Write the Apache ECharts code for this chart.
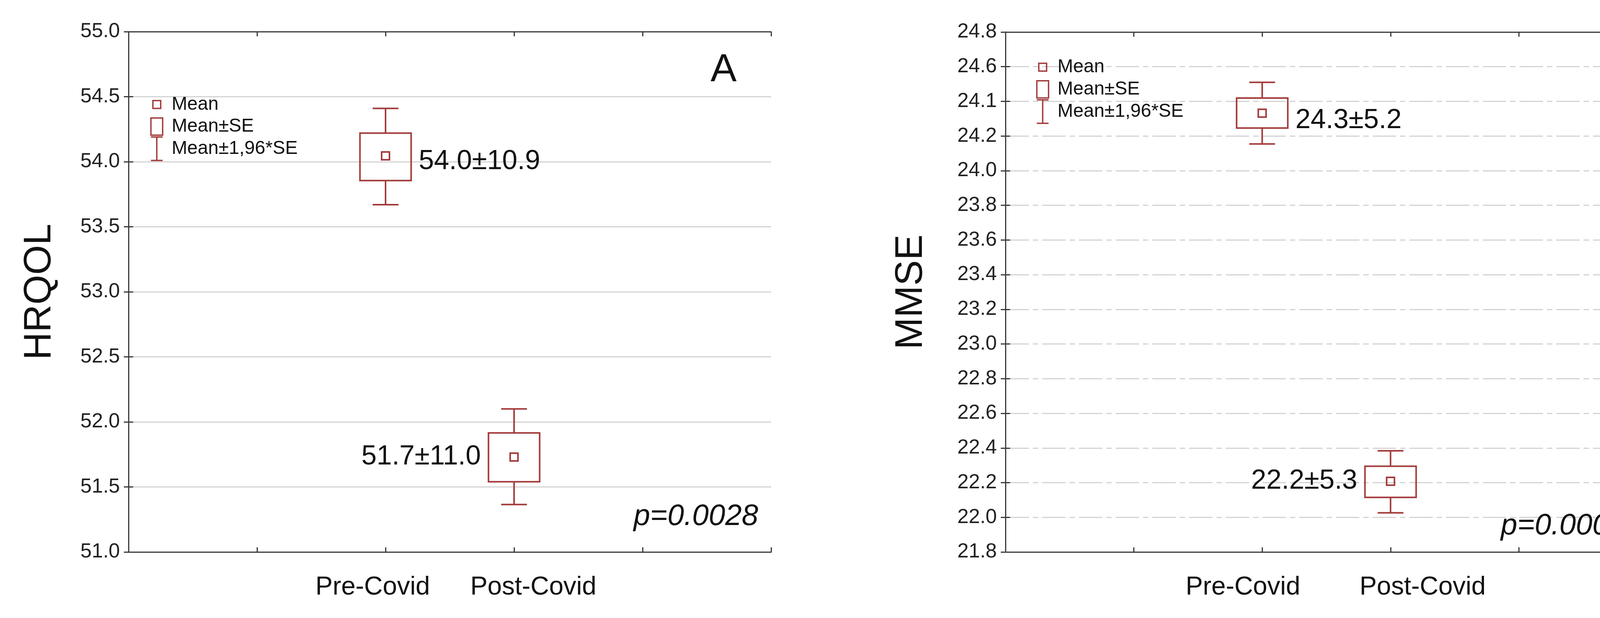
<!DOCTYPE html>
<html><head><meta charset="utf-8">
<script src="https://cdn.jsdelivr.net/npm/echarts@6/dist/echarts.min.js"></script>
<style>html,body{margin:0;background:#fff}#c{width:4288px;height:1582px}</style>
</head><body><div id="c"></div>
<script>
// ---- data ----
const categories = ['Pre-Covid', 'Post-Covid'];
// panel A (HRQOL)
const meanA = [54.045, 51.73];
const seLoA = [53.855, 51.54];
const seHiA = [54.22, 51.915];
const ciLoA = [53.67, 51.365];
const ciHiA = [54.41, 52.10];
const labelsA = ['54.0±10.9', '51.7±11.0'];
// panel B (MMSE)
const meanB = [24.332, 22.208];
const seLoB = [24.246, 22.115];
const seHiB = [24.419, 22.295];
const ciLoB = [24.154, 22.026];
const ciHiB = [24.51, 22.384];
const labelsB = ['24.3±5.2', '22.2±5.3'];
const yTicksB = ['21.8','22.0','22.2','22.4','22.6','22.8','23.0','23.2','23.4','23.6','23.8','24.0','24.2','24.1','24.6','24.8'];
const legendTexts = ['Mean', 'Mean±SE', 'Mean±1,96*SE'];

const RED = '#a33a3a';
const FONT = '"Liberation Sans Narrow", "Liberation Sans", Arial, sans-serif';
const catX = [2, 3];

function boxData(mean, lo, hi, clo, chi) {
  return categories.map((c, i) => [catX[i], mean[i], lo[i], hi[i], clo[i], chi[i]]);
}
function renderBox(params, api) {
  const x = api.value(0);
  const pm = api.coord([x, api.value(1)]);
  const pLo = api.coord([x, api.value(2)]);
  const pHi = api.coord([x, api.value(3)]);
  const pcl = api.coord([x, api.value(4)]);
  const pch = api.coord([x, api.value(5)]);
  const bw = 131, cw = 66, ms = 20;
  const st = {stroke: RED, lineWidth: 4, fill: null};
  return {type: 'group', children: [
    {type: 'line', shape: {x1: pm[0], y1: pch[1], x2: pm[0], y2: pHi[1]}, style: st},
    {type: 'line', shape: {x1: pm[0], y1: pLo[1], x2: pm[0], y2: pcl[1]}, style: st},
    {type: 'line', shape: {x1: pm[0]-cw/2, y1: pch[1], x2: pm[0]+cw/2, y2: pch[1]}, style: st},
    {type: 'line', shape: {x1: pm[0]-cw/2, y1: pcl[1], x2: pm[0]+cw/2, y2: pcl[1]}, style: st},
    {type: 'rect', shape: {x: pm[0]-bw/2, y: pHi[1], width: bw, height: pLo[1]-pHi[1]}, style: st},
    {type: 'rect', shape: {x: pm[0]-ms/2, y: pm[1]-ms/2, width: ms, height: ms}, style: st}
  ]};
}
function valueLabels(labels, means, sides, xIndex, yIndex) {
  return {
    type: 'custom', xAxisIndex: xIndex, yAxisIndex: yIndex, silent: true,
    data: labels.map((t, i) => [catX[i], means[i], i]),
    renderItem: (p, api) => {
      const i = api.value(2);
      const pt = api.coord([api.value(0), api.value(1)]);
      const right = sides[i] > 0;
      return {type: 'text', x: pt[0] + (right ? 85 : -85), y: pt[1],
        style: {text: labels[i], font: '70px ' + FONT, fill: '#111',
          align: right ? 'left' : 'right', verticalAlign: 'middle'}};
    }
  };
}
function legendSeries(xIndex, yIndex, x0, ys) {
  return {
    type: 'custom', xAxisIndex: xIndex, yAxisIndex: yIndex, silent: true,
    data: legendTexts.map((t, i) => [x0, ys[i], i]),
    renderItem: (p, api) => {
      const i = api.value(2);
      const pt = api.coord([api.value(0), api.value(1)]);
      const st = {stroke: RED, lineWidth: 3.5, fill: null};
      let sym;
      if (i === 0) sym = {type: 'rect', shape: {x: pt[0]-10, y: pt[1]-10, width: 20, height: 20}, style: st};
      else if (i === 1) sym = {type: 'rect', shape: {x: pt[0]-15, y: pt[1]-22, width: 30, height: 44}, style: st};
      else sym = {type: 'group', children: [
        {type: 'line', shape: {x1: pt[0], y1: pt[1]-30, x2: pt[0], y2: pt[1]+30}, style: st},
        {type: 'line', shape: {x1: pt[0]-15, y1: pt[1]-30, x2: pt[0]+15, y2: pt[1]-30}, style: st},
        {type: 'line', shape: {x1: pt[0]-15, y1: pt[1]+30, x2: pt[0]+15, y2: pt[1]+30}, style: st}]};
      return {type: 'group', children: [sym,
        {type: 'text', x: pt[0] + 38, y: pt[1], style: {text: legendTexts[i], font: '48px ' + FONT, fill: '#111', verticalAlign: 'middle'}}]};
    }
  };
}
function textSeries(xIndex, yIndex, x, y, text, font, align) {
  return {type: 'custom', xAxisIndex: xIndex, yAxisIndex: yIndex, silent: true, data: [[x, y]],
    renderItem: (p, api) => {
      const pt = api.coord([api.value(0), api.value(1)]);
      return {type: 'text', x: pt[0], y: pt[1], style: {text, font, fill: '#111', align, verticalAlign: 'middle'}};
    }};
}

const grids = [
  {left: 329, top: 81, width: 1645, height: 1332},
  {left: 2574, top: 82, width: 1643, height: 1331}
];
const xLabelPos = [{pre: 1.9, post: 3.15}, {pre: 1.85, post: 3.25}];
const gridLineTypes = ['solid', [60, 10, 14, 10]];
const xAxes = [], yAxes = [];
const yCfg = [{min: 51, max: 55, interval: 0.5, name: 'HRQOL', gap: 178, fmt: v => v.toFixed(1)},
              {min: 21.8, max: 24.8, interval: 0.2, name: 'MMSE', gap: 192, fmt: v => yTicksB[Math.round((v - 21.8) / 0.2)] || ''}];
[0, 1].forEach(g => {
  xAxes.push({gridIndex: g, type: 'value', min: 0, max: 5, interval: 1, position: 'bottom',
    axisLine: {lineStyle: {color: '#3a3a3a', width: 3}}, axisTick: {inside: true, length: 12, lineStyle: {color: '#3a3a3a', width: 3}},
    axisLabel: {show: false}, splitLine: {show: false}});
  xAxes.push({gridIndex: g, type: 'value', min: 0, max: 5, interval: 1, position: 'top',
    axisLine: {show: true, lineStyle: {color: '#3a3a3a', width: 3}}, axisTick: {show: true, inside: true, length: 12, lineStyle: {color: '#3a3a3a', width: 3}},
    axisLabel: {show: false}, splitLine: {show: false}});
  const lp = xLabelPos[g];
  xAxes.push({gridIndex: g, type: 'value', min: 0, max: 5, interval: 0.05, position: 'bottom',
    axisLine: {show: false}, axisTick: {show: false}, splitLine: {show: false},
    axisLabel: {interval: 0, hideOverlap: false, margin: 58, fontSize: 66, fontFamily: FONT, color: '#111',
      formatter: v => Math.abs(v - lp.pre) < 1e-6 ? categories[0] : (Math.abs(v - lp.post) < 1e-6 ? categories[1] : '')}});
  const yc = yCfg[g];
  yAxes.push({gridIndex: g, type: 'value', min: yc.min, max: yc.max, interval: yc.interval,
    name: yc.name, nameLocation: 'middle', nameGap: yc.gap, nameTextStyle: {fontSize: 98, fontFamily: '"Liberation Sans", Arial, sans-serif', color: '#111'},
    axisLine: {show: true, lineStyle: {color: '#3a3a3a', width: 3}}, axisTick: {inside: true, length: 12, lineStyle: {color: '#3a3a3a', width: 3}},
    axisLabel: {fontSize: 52, fontFamily: FONT, color: '#222', margin: 22, formatter: yc.fmt},
    splitLine: {show: true, lineStyle: {color: '#d4d4d4', width: 3, type: gridLineTypes[g]}}});
  yAxes.push({gridIndex: g, type: 'value', min: yc.min, max: yc.max, interval: yc.interval, position: 'right',
    axisLine: {show: true, lineStyle: {color: '#3a3a3a', width: 3}}, axisTick: {show: true, inside: true, length: 12, lineStyle: {color: '#3a3a3a', width: 3}},
    axisLabel: {show: false}, splitLine: {show: false}});
});

const series = [
  {type: 'custom', xAxisIndex: 0, yAxisIndex: 0, data: boxData(meanA, seLoA, seHiA, ciLoA, ciHiA), renderItem: renderBox, z: 5},
  {type: 'custom', xAxisIndex: 3, yAxisIndex: 2, data: boxData(meanB, seLoB, seHiB, ciLoB, ciHiB), renderItem: renderBox, z: 5},
  valueLabels(labelsA, [54.0, 51.73], [1, -1], 0, 0),
  valueLabels(labelsB, [24.29, 22.208], [1, -1], 3, 2),
  legendSeries(0, 0, 0.22, [54.44, 54.27, 54.10]),
  legendSeries(3, 2, 0.29, [24.597, 24.469, 24.341]),
  textSeries(0, 0, 4.63, 54.7, 'A', '100px "Liberation Sans", Arial, sans-serif', 'center'),
  textSeries(3, 2, 4.73, 24.6, 'B', '100px "Liberation Sans", Arial, sans-serif', 'center'),
  textSeries(0, 0, 4.9, 51.27, 'p=0.0028', 'italic 76px ' + FONT, 'right'),
  textSeries(3, 2, 4.83, 21.95, 'p=0.0001', 'italic 76px ' + FONT, 'right')
];

const chart = echarts.init(document.getElementById('c'));
chart.setOption({animation: false, backgroundColor: '#fff', grid: grids, xAxis: xAxes, yAxis: yAxes, series});
</script></body></html>
